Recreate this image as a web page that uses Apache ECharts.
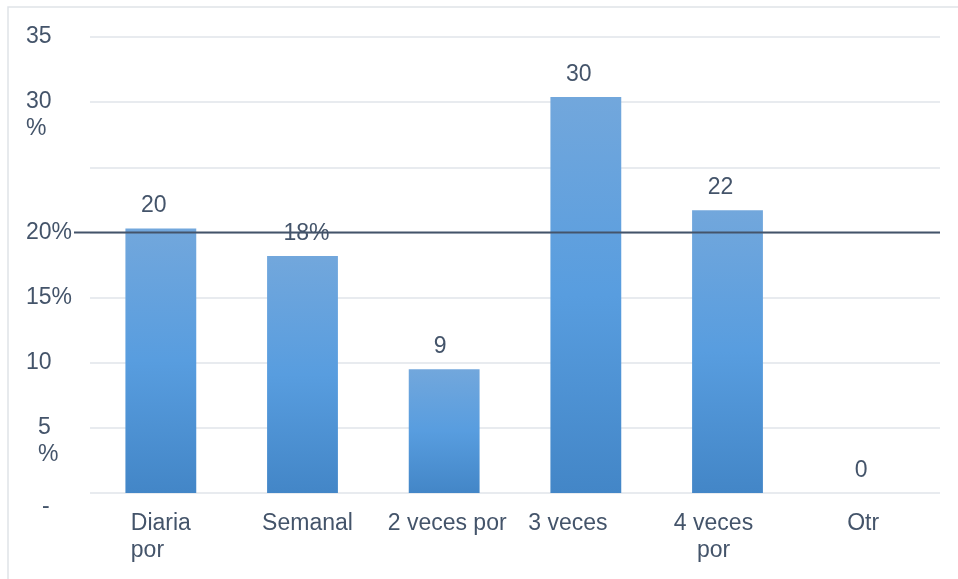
<!DOCTYPE html>
<html><head><meta charset="utf-8">
<script src="https://cdn.jsdelivr.net/npm/echarts@6/dist/echarts.min.js"></script>
<style>html,body{margin:0;padding:0;background:#fff}#c{width:958px;height:579px}</style>
</head><body><div id="c"></div>
<script>
// ---- data ----
var categories = ['Diaria\npor', 'Semanal', '2 veces por', '3 veces', '4 veces\npor', 'Otr'];
var values = [20.3, 18.2, 9.5, 30.4, 21.7, 0];
var valueLabels = ['20', '18%', '9', '30', '22', '0'];
var yTickValues = [0, 5, 10, 15, 20, 25, 30, 35];
var yTickLabels = ['-', '5\n%', '10', '15%', '20%', '', '30\n%', '35'];
var referenceValue = 20;

// ---- style ----
var TXT = '#44546a';
var FS = 23;
var FONT = '"Liberation Sans", Arial, sans-serif';
var catShift = [0, 5, 3, -18, -14, -6];
var catAlign = ['left', 'left', 'left', 'left', 'center', 'left'];
var labelShift = [-7, 4, -4, -7, -7, -8];

var chart = echarts.init(document.getElementById('c'), null, {renderer: 'canvas'});

function yFmt(v) {
  var i = yTickValues.indexOf(v);
  var t = i >= 0 ? yTickLabels[i] : '';
  if (t === '') return '';
  if (t.indexOf('\n') >= 0) {
    var parts = t.split('\n');
    var st = (v === 5) ? 'p' : 'a';
    return '{a| }\n{' + st + '|' + parts[0] + '}\n{' + st + '|' + parts[1] + '}';
  }
  if (t === '-') return '{a| }\n{d|-}';
  return '{a|' + t + '}';
}

chart.setOption({
  animation: false,
  textStyle: {fontFamily: FONT},
  grid: {left: 90, right: 18, top: 37, bottom: 86},
  xAxis: {
    type: 'category',
    data: categories,
    axisLine: {show: false},
    axisTick: {show: false},
    axisLabel: {
      interval: 0,
      margin: 17,
      color: TXT,
      fontSize: FS,
      fontFamily: FONT,
      lineHeight: 27,
      formatter: function (val, idx) {
        var lines = val.split('\n');
        var key = 'c' + idx;
        return lines.map(function (l) { return '{' + key + '|' + l + '}'; }).join('\n');
      },
      rich: (function () {
        var r = {};
        for (var i = 0; i < categories.length; i++) {
          var s = catShift[i];
          r['c' + i] = {
            color: TXT, fontSize: FS, fontFamily: FONT, lineHeight: 27, align: catAlign[i],
            padding: s < 0 ? [0, -2 * s, 0, 0] : [0, 0, 0, 2 * s]
          };
        }
        return r;
      })()
    }
  },
  yAxis: {
    type: 'value',
    min: 0, max: 35, interval: 5,
    axisLine: {show: false},
    axisTick: {show: false},
    splitLine: {lineStyle: {color: '#e1e5ea', width: 1.5}},
    axisLabel: {
      align: 'left',
      margin: 64,
      color: TXT,
      fontSize: FS,
      fontFamily: FONT,
      formatter: yFmt,
      rich: {
        a: {color: TXT, fontSize: FS, fontFamily: FONT, lineHeight: 27, align: 'left'},
        p: {color: TXT, fontSize: FS, fontFamily: FONT, lineHeight: 27, align: 'left', padding: [0, 0, 0, 12]},
        d: {color: TXT, fontSize: FS, fontFamily: FONT, lineHeight: 27, align: 'left', padding: [0, 0, 0, 16]}
      }
    }
  },
  series: [{
    type: 'bar',
    barWidth: '50%',
    data: values.map(function (v, i) {
      return {value: v, label: {offset: [labelShift[i], 0]}};
    }),
    itemStyle: {
      color: new echarts.graphic.LinearGradient(0, 0, 0, 1, [
        {offset: 0, color: '#72a7dc'},
        {offset: 0.5, color: '#589ddf'},
        {offset: 1, color: '#4386c7'}
      ])
    },
    label: {
      show: true,
      position: 'top',
      distance: 11,
      color: TXT,
      fontSize: FS,
      fontFamily: FONT,
      formatter: function (p) { return valueLabels[p.dataIndex]; }
    }
  }]
});

var yPix = chart.convertToPixel({yAxisIndex: 0}, referenceValue);
chart.setOption({
  graphic: [
    {type: 'rect', shape: {x: 8, y: 7, width: 2000, height: 2000},
     style: {fill: 'none', stroke: '#dfe3e8', lineWidth: 1.5}, silent: true, z: -1},
    {type: 'line', shape: {x1: 74, y1: yPix, x2: 940, y2: yPix},
     style: {stroke: '#44546a', lineWidth: 2}, z: 10}
  ]
});
</script>
</body></html>
